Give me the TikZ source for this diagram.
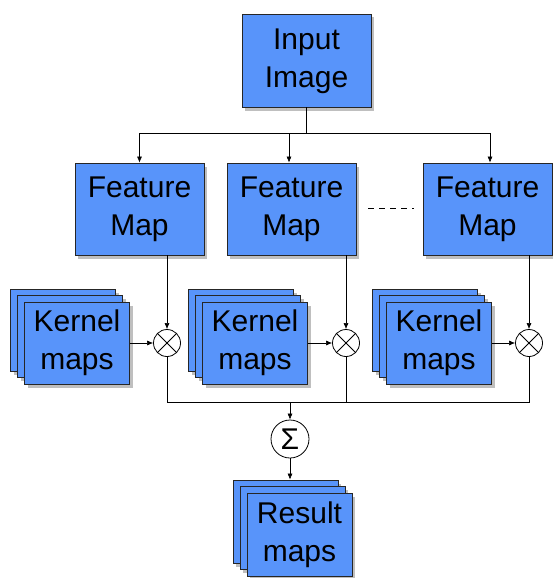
\documentclass[tikz,border=0pt]{standalone}
\usepackage{fontspec}
\setmainfont{Liberation Sans}
\usetikzlibrary{shadows,arrows.meta}
\definecolor{boxblue}{RGB}{88,148,250}
\newcommand\twoline[2]{\raisebox{-3pt}{\begin{tabular}{@{}c@{}}#1\\#2\end{tabular}}}
\tikzset{
  x=1pt, y=-1pt,
  blk/.style={draw=black!85, line width=0.8pt, fill=boxblue, align=center,
    font=\fontsize{30}{38}\selectfont, inner sep=0pt,
    drop shadow={opacity=0.5, shadow xshift=3pt, shadow yshift=-3.5pt}},
  fmbox/.style={blk, minimum width=129pt, minimum height=92pt},
  kbox/.style={blk, minimum width=105pt, minimum height=82pt},
  opc/.style={circle, draw, line width=0.8pt, fill=white, minimum size=27pt, inner sep=0pt},
  conn/.style={line width=0.6pt},
  arr/.style={conn, -{Latex[length=6pt,width=5pt]}}
}
\begin{document}
\begin{tikzpicture}
\useasboundingbox (0,0) rectangle (552,578);
% input
\node[fmbox, minimum height=93pt] (input) at (306.5,60.5) {\twoline{Input}{Image}};
% feature maps
\node[fmbox] (fm1) at (139.5,209) {\twoline{Feature}{Map}};
\node[fmbox] (fm2) at (291.5,209) {\twoline{Feature}{Map}};
\node[fmbox] (fm3) at (487.5,209) {\twoline{Feature}{Map}};
% kernel stacks
\foreach \n/\cx in {1/77,2/255,3/439}{
  \node[kbox] (k\n a) at (\cx-14,330) {};
  \node[kbox] (k\n b) at (\cx-7,336.5) {};
  \node[kbox] (k\n) at (\cx,343) {\twoline{Kernel}{maps}};
}
% multiply circles
\foreach \n/\cx in {1/167,2/346,3/529}{
  \node[opc] (m\n) at (\cx,343) {};
  \draw[line width=0.8pt] (m\n.north west) -- (m\n.south east) (m\n.north east) -- (m\n.south west);
}
% sum
\node[opc, minimum size=38pt, font=\fontsize{30}{32}\selectfont] (sum) at (290,439) {Σ};
% result stack
\node[kbox, minimum height=83pt] (ra) at (285.5,521.5) {};
\node[kbox, minimum height=83pt] (rb) at (292.5,528) {};
\node[kbox, minimum height=83pt] (res) at (299.5,534.5) {\twoline{Result}{maps}};
% connectors
\coordinate (jin) at (306.5,133);
\coordinate (j1) at (139.5,133);
\coordinate (j2) at (289,133);
\coordinate (j3) at (490,133);
\draw[conn] (input) -- (jin);
\draw[conn] (j1) -- (j3);
\draw[arr] (j1) -- (j1 |- fm1.north);
\draw[arr] (j2) -- (j2 |- fm2.north);
\draw[arr] (j3) -- (j3 |- fm3.north);
\coordinate (d1) at (368,208);
\coordinate (d2) at (414,208);
\draw[conn, dash pattern=on 6pt off 5pt] (d1) -- (d2);
\foreach \n in {1,2,3}{
  \draw[arr] (fm\n.south -| m\n) -- (m\n);
  \draw[arr] (k\n) -- (m\n);
}
\coordinate (bus1) at (167,402);
\coordinate (bus3) at (529,402);
\coordinate (busc) at (290,402);
\draw[conn] (m1) -- (bus1) -- (bus3) -- (m3);
\draw[conn] (m2) -- (m2 |- bus1);
\draw[arr] (busc) -- (sum);
\draw[arr] (sum) -- (sum |- ra.north);
\end{tikzpicture}
\end{document}
